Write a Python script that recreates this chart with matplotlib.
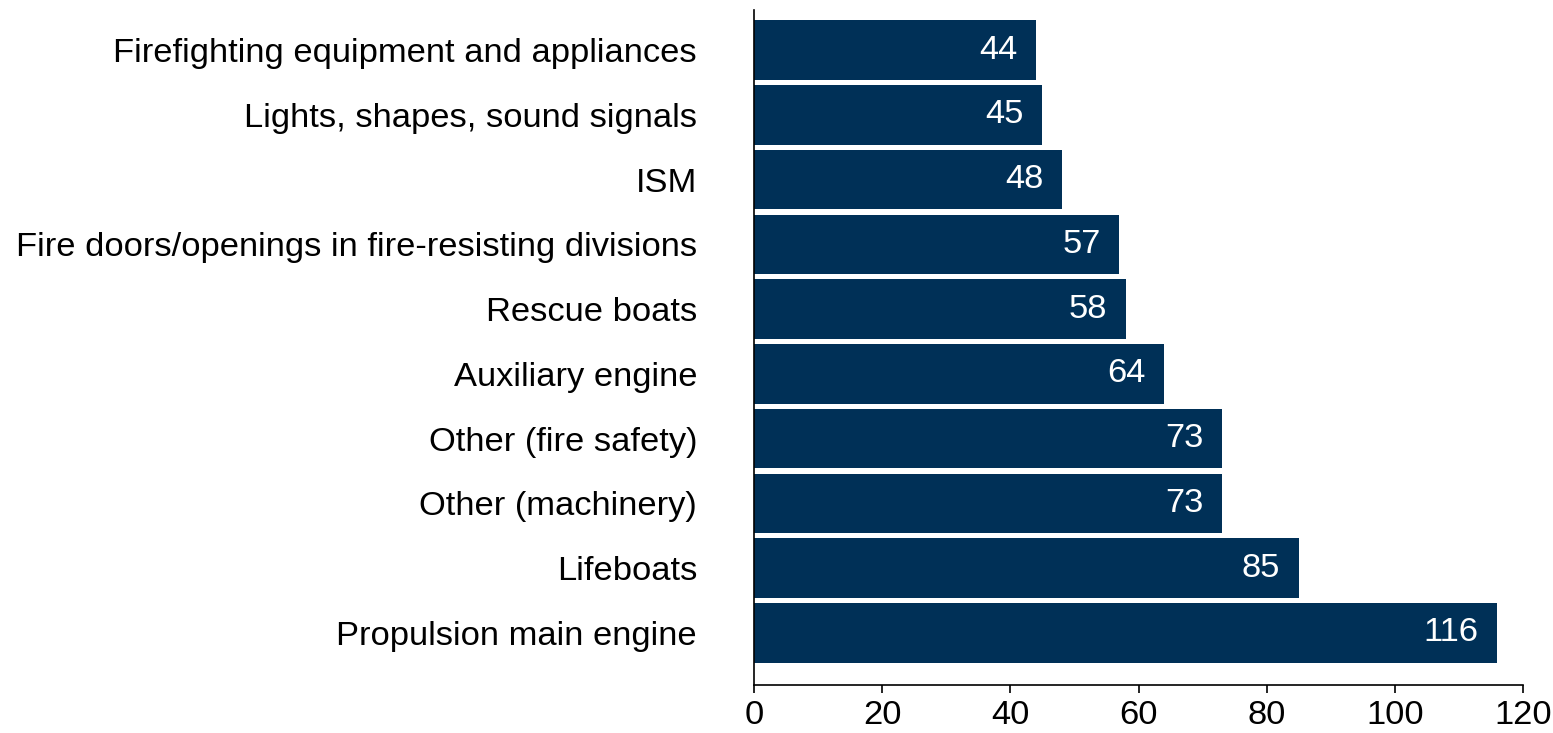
import matplotlib
matplotlib.use("Agg")
import matplotlib.pyplot as plt

categories = ["Propulsion main engine", "Lifeboats", "Other (machinery)", "Other (fire safety)",
              "Auxiliary engine", "Rescue boats", "Fire doors/openings in fire-resisting divisions",
              "ISM", "Lights, shapes, sound signals", "Firefighting equipment and appliances"]
values = [116, 85, 73, 73, 64, 58, 57, 48, 45, 44]
xticks = [0, 20, 40, 60, 80, 100, 120]

plt.rcParams['font.family'] = ['Liberation Sans', 'DejaVu Sans']
fig = plt.figure(figsize=(15.53, 7.33), dpi=100)
W, H = 1553, 733
left, right, top, bottom = 754, 1523, 10, 685
ax = fig.add_axes([left / W, 1 - bottom / H, (right - left) / W, (bottom - top) / H])

color = "#003057"
fs = 24.8
y = list(range(len(categories)))
bars = ax.barh(y, values, height=0.92, color=color)
for yi, v in zip(y, values):
    ax.text(v - 2.9, yi, str(v), ha="right", va="center", color="white", fontsize=fs)

ax.set_xlim(0, 120)
ax.set_ylim(-0.803, 9.618)
ax.set_xticks(xticks)
ax.set_xticklabels([str(t) for t in xticks], fontsize=fs)
ax.set_yticks(y)
ax.set_yticklabels(categories, fontsize=fs)
ax.tick_params(axis="y", length=0, pad=41)
ax.tick_params(axis="x", length=6, width=1.2, direction="out", pad=5)
for s in ["top", "right"]:
    ax.spines[s].set_visible(False)
ax.spines["left"].set_linewidth(1.2)
ax.spines["bottom"].set_linewidth(1.2)

fig.savefig("out.png", dpi=100)
